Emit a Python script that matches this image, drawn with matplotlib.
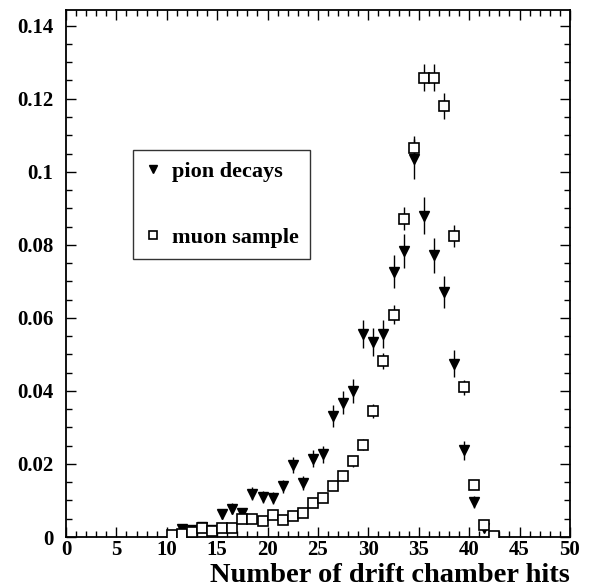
import numpy as np
import matplotlib.pyplot as plt
from matplotlib.ticker import MultipleLocator

# bin centres (number of hits)
pion_x = [11.5, 12.5, 13.5, 14.5, 15.5, 16.5, 17.5, 18.5, 19.5, 20.5, 21.5, 22.5, 23.5,
          24.5, 25.5, 26.5, 27.5, 28.5, 29.5, 30.5, 31.5, 32.5, 33.5, 34.5, 35.5, 36.5,
          37.5, 38.5, 39.5, 40.5, 41.5]
pion_y = [0.0023, 0.0019, 0.0027, 0.0019, 0.0062, 0.0078, 0.0066, 0.0119, 0.0110, 0.0107,
          0.0139, 0.0198, 0.0149, 0.0214, 0.0226, 0.0332, 0.0368, 0.0400, 0.0556, 0.0534,
          0.0556, 0.0726, 0.0784, 0.1035, 0.0880, 0.0771, 0.0671, 0.0474, 0.0238, 0.0096,
          0.0026]
pion_err = [0.0007, 0.0007, 0.0008, 0.0007, 0.0012, 0.0014, 0.0013, 0.0017, 0.0016, 0.0016,
            0.0018, 0.0022, 0.0019, 0.0023, 0.0024, 0.0030, 0.0031, 0.0032, 0.0039, 0.0038,
            0.0039, 0.0045, 0.0047, 0.0054, 0.0050, 0.0047, 0.0044, 0.0037, 0.0026, 0.0016,
            0.0008]

muon_x = [10.5, 11.5, 12.5, 13.5, 14.5, 15.5, 16.5, 17.5, 18.5, 19.5, 20.5, 21.5, 22.5,
          23.5, 24.5, 25.5, 26.5, 27.5, 28.5, 29.5, 30.5, 31.5, 32.5, 33.5, 34.5, 35.5,
          36.5, 37.5, 38.5, 39.5, 40.5, 41.5, 42.5]
muon_y = [0.0005, 0.0007, 0.0014, 0.0026, 0.0017, 0.0025, 0.0026, 0.0048, 0.0048, 0.0043,
          0.0060, 0.0046, 0.0057, 0.0066, 0.0092, 0.0108, 0.0141, 0.0167, 0.0207, 0.0253,
          0.0346, 0.0482, 0.0609, 0.0872, 0.1065, 0.1258, 0.1258, 0.1180, 0.0825, 0.0410,
          0.0143, 0.0033, 0.0003]
muon_err = [0.0002, 0.0002, 0.0003, 0.0004, 0.0004, 0.0005, 0.0005, 0.0007, 0.0007, 0.0007,
            0.0008, 0.0007, 0.0008, 0.0008, 0.0010, 0.0011, 0.0012, 0.0013, 0.0015, 0.0016,
            0.0019, 0.0023, 0.0026, 0.0031, 0.0034, 0.0037, 0.0037, 0.0036, 0.0030, 0.0021,
            0.0012, 0.0006, 0.0002]

plt.rcParams['font.family'] = ['Liberation Serif', 'DejaVu Serif']
plt.rcParams['font.weight'] = 'bold'

fig = plt.figure(figsize=(6.07, 5.88), dpi=100)
ax = fig.add_axes([0.1087, 0.0867, 0.8303, 0.8963])

ax.errorbar(pion_x, pion_y, yerr=pion_err, fmt='none', ecolor='black', elinewidth=1.0, zorder=2)
ax.plot(pion_x, pion_y, 'v', color='black', ms=7.5, zorder=3, label='pion decays')
ax.errorbar(muon_x, muon_y, yerr=muon_err, fmt='none', ecolor='black', elinewidth=1.0, zorder=2)
ax.plot(muon_x, muon_y, 's', mfc='white', mec='black', mew=1.2, ms=6.8, zorder=4,
        label='muon sample')

ax.set_xlim(0, 50)
ax.set_ylim(0, 0.1443)
ax.xaxis.set_major_locator(MultipleLocator(5))
ax.xaxis.set_minor_locator(MultipleLocator(1))
ax.yaxis.set_minor_locator(MultipleLocator(0.005))
ax.set_yticks([0, 0.02, 0.04, 0.06, 0.08, 0.1, 0.12, 0.14])
ax.set_yticklabels(['0', '0.02', '0.04', '0.06', '0.08', '0.1', '0.12', '0.14'])
ax.tick_params(which='both', direction='in', top=True, right=True, labelsize=15, width=1.0)
ax.tick_params(which='major', length=7)
ax.tick_params(which='minor', length=4)
ax.tick_params(axis='x', pad=2)
ax.tick_params(axis='y', pad=9)
for s in ax.spines.values():
    s.set_linewidth(1.3)

ax.set_xlabel('Number of drift chamber hits', fontsize=20.5, fontweight='bold', loc='right',
              labelpad=2)

leg = ax.legend(loc='upper left', bbox_to_anchor=(0.133, 0.734), fontsize=16,
                frameon=True, fancybox=False, edgecolor='black', labelspacing=2.03,
                handlelength=0.8, handletextpad=0.46, borderpad=0.5, borderaxespad=0,
                markerscale=0.85)
leg.get_frame().set_linewidth(1.0)

fig.savefig('out.png', dpi=100)
